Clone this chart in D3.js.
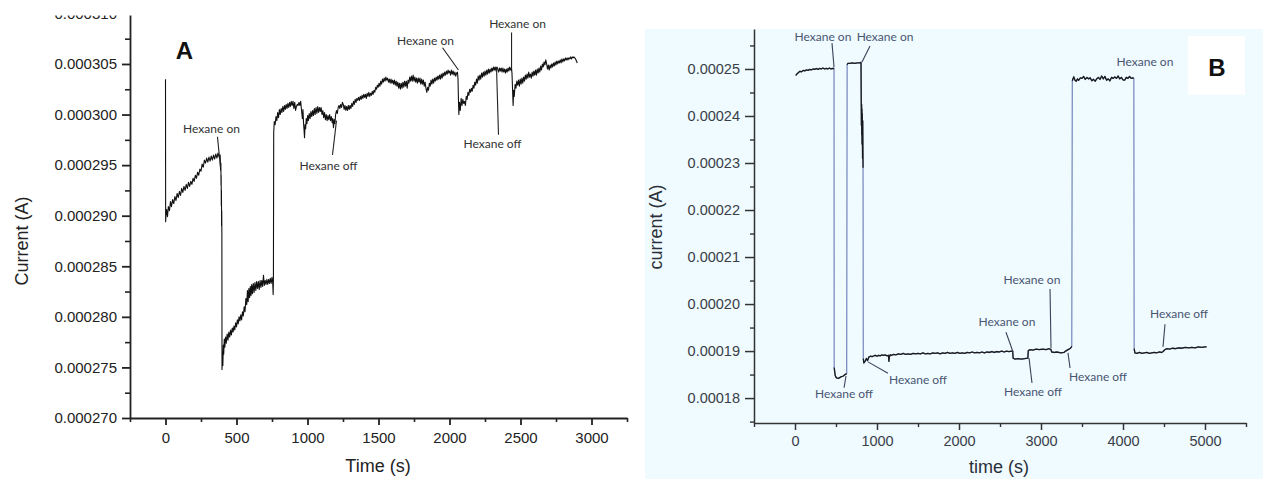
<!DOCTYPE html>
<html><head><meta charset="utf-8">
<script src="https://cdn.jsdelivr.net/npm/d3@7"></script>
<style>body{margin:0;background:#fff}svg{display:block}</style>
</head><body>
<svg id="c" width="1263" height="479"></svg>
<script>
// ---------- DATA (current in µA, time in s) ----------
// Panel A trace [time, current µA]
const traceA = [
[0,303.5],[1,289.4],[4,290.2],[8,290.6],[14,289.9],[20,290.9],[28,290.5],[35,291.4],[42,290.9],[50,291.6],[58,291.2],[66,291.9],[74,291.5],[82,292.2],[90,291.8],[98,292.4],[106,292.0],[114,292.7],[122,292.3],[130,292.9],[138,292.5],[146,293.1],[154,292.7],[162,293.3],[170,292.9],[178,293.4],[186,293.1],[194,293.7],[202,293.4],[210,294.0],[218,293.7],[226,294.3],[234,294.0],[242,294.6],[250,294.4],[258,295.1],[266,294.8],[274,295.5],[282,295.2],[290,295.7],[298,295.3],[306,295.8],[314,295.4],[322,295.9],[330,295.5],[338,296.0],[346,295.6],[354,296.1],[362,295.7],[370,296.2],[378,295.8],[385,296.0],
[388,294.5],[390,295.2],[391,293.0],[392,294.0],[393,291.0],[394,292.5],[395,289.0],[396,290.5],[397,288.2],[398,274.8],
[402,276.5],[404,275.2],[407,277.2],[410,276.3],[414,277.8],[418,277.0],[423,278.0],[428,277.4],[434,278.3],[440,277.7],[446,278.5],[452,278.0],[458,278.7],[464,278.2],[470,278.9],[476,278.5],[482,279.1],[488,278.7],[494,279.4],[500,279.0],[506,279.7],[512,279.3],[518,280.0],[524,279.6],[530,280.2],[536,279.7],[542,280.5],[548,280.1],[554,281.0],[560,280.5],[566,281.8],[572,281.2],[577,282.6],[582,281.5],[587,282.8],[592,281.9],[597,283.0],[602,282.1],[607,283.2],[612,282.3],[618,283.3],[624,282.4],[630,283.4],[636,282.6],[642,283.5],[648,282.8],[654,283.5],[660,282.7],[666,283.6],[672,282.9],[678,283.6],[684,283.0],[690,284.1],[696,283.1],[702,283.6],[708,283.2],[714,283.7],[720,283.2],[726,283.7],[732,283.3],[738,283.8],[744,283.3],[750,283.9],[755,283.4],[758,282.2],[760,283.6],
[762,298.2],[766,299.3],[772,299.0],[778,299.8],[784,299.4],[790,300.2],[796,299.7],[802,300.5],[808,300.0],[814,300.6],[820,300.2],[826,300.8],[832,300.3],[838,300.9],[844,300.5],[850,301.0],[856,300.6],[862,301.1],[868,300.7],[874,301.2],[880,300.8],[886,301.3],[892,300.9],[898,301.3],[904,300.6],[910,301.2],[916,300.4],[922,300.8],[928,301.0],[934,300.9],[940,301.2],[946,300.9],[952,301.3],[958,300.4],[964,299.6],[968,300.5],[972,299.2],[976,298.4],[979,297.7],[983,299.0],[987,298.6],[991,299.6],[996,299.1],[1001,299.9],[1006,299.4],[1012,300.1],[1018,299.6],[1024,300.3],[1030,299.8],[1036,300.4],[1042,299.9],[1048,300.6],[1054,300.0],[1060,300.7],[1066,300.1],[1072,300.8],[1078,300.2],[1084,300.7],[1090,300.3],[1096,300.7],[1102,300.0],[1108,300.4],[1114,299.7],[1120,300.2],[1126,299.5],[1132,300.0],[1138,299.4],[1144,299.9],[1150,299.5],[1156,300.0],[1162,299.4],[1168,299.8],[1174,299.2],[1178,299.6],[1183,298.7],[1188,299.5],[1193,299.1],[1198,300.0],[1204,300.4],[1210,300.1],[1216,300.7],[1222,300.9],[1228,300.6],[1234,301.0],[1240,300.7],[1246,301.2],[1252,301.0],[1258,300.5],[1264,300.9],[1270,300.4],[1276,300.8],[1282,300.4],[1288,300.9],[1294,300.5],[1300,300.9],[1306,300.6],[1312,301.1],[1318,300.8],[1324,301.3],[1330,301.0],[1336,301.5],[1342,301.2],[1348,301.6],[1354,301.4],[1360,301.7],[1366,301.4],[1372,301.8],[1378,301.5],[1384,301.9],[1390,301.6],[1396,302.0],[1402,301.7],[1408,302.0],[1414,301.6],[1420,302.1],[1426,301.8],[1432,302.2],[1438,301.8],[1444,302.1],[1450,301.9],[1456,302.3],[1462,302.0],[1468,302.4],[1474,302.2],[1480,302.7],[1486,302.5],[1492,302.9],[1498,302.7],[1504,303.1],[1510,302.8],[1516,303.3],[1522,303.0],[1528,303.5],[1534,303.2],[1540,303.6],[1546,303.3],[1552,303.7],[1558,303.4],[1564,303.6],[1570,303.2],[1576,303.5],[1582,303.1],[1588,303.5],[1594,303.1],[1600,303.4],[1606,303.0],[1612,303.4],[1618,302.9],[1624,303.3],[1630,302.8],[1636,303.2],[1642,302.6],[1648,303.1],[1654,302.5],[1660,303.1],[1666,302.6],[1672,303.2],[1678,302.7],[1684,303.3],[1690,302.8],[1696,303.3],[1702,302.6],[1708,303.4],[1714,303.1],[1720,303.7],[1726,303.3],[1732,303.8],[1738,303.3],[1744,303.9],[1750,303.3],[1756,303.7],[1762,303.2],[1768,303.6],[1774,303.1],[1780,303.6],[1786,303.2],[1792,303.6],[1798,303.0],[1804,303.5],[1810,303.0],[1816,303.4],[1822,302.8],[1828,303.2],[1834,302.6],[1840,302.2],[1846,302.7],[1852,302.4],[1858,303.1],[1864,302.8],[1870,303.4],[1876,303.0],[1882,303.5],[1888,303.1],[1894,303.6],[1900,303.3],[1906,303.7],[1912,303.4],[1918,303.8],[1924,303.5],[1930,303.9],[1936,303.5],[1942,304.0],[1948,303.6],[1954,304.1],[1960,303.8],[1966,304.2],[1972,303.9],[1978,304.3],[1984,304.0],[1990,304.4],[1996,304.1],[2002,304.3],[2008,303.9],[2014,304.4],[2020,304.0],[2026,304.3],[2032,303.9],[2038,304.2],[2044,303.8],[2050,304.1],[2056,304.2],[2060,303.5],[2063,301.5],[2066,300.0],[2070,301.2],[2076,300.4],[2082,301.6],[2088,300.9],[2094,301.5],[2100,301.1],[2106,301.3],[2112,300.9],[2118,301.8],[2124,301.5],[2130,302.2],[2136,301.9],[2142,302.5],[2148,302.2],[2154,302.6],[2160,302.3],[2166,302.9],[2172,302.6],[2178,303.2],[2184,302.9],[2190,303.5],[2196,303.1],[2202,303.8],[2208,303.4],[2214,303.9],[2220,303.5],[2226,304.1],[2232,303.7],[2238,304.2],[2244,303.8],[2250,304.3],[2256,303.9],[2262,304.4],[2268,304.0],[2274,304.5],[2280,304.1],[2286,304.5],[2292,304.2],[2298,304.6],[2304,304.3],[2310,304.7],[2316,304.4],[2322,304.7],[2328,304.3],[2334,304.7],[2340,304.5],[2346,304.2],[2352,304.6],[2358,304.3],[2364,304.6],[2370,304.2],[2376,304.6],[2382,304.2],[2388,304.5],[2394,304.1],[2400,304.5],[2406,304.2],[2412,304.6],[2418,304.3],[2424,304.7],[2430,304.4],[2436,304.6],[2440,304.1],[2444,302.5],[2448,300.9],[2452,302.4],[2456,301.8],[2462,303.0],[2468,302.6],[2474,303.3],[2480,302.9],[2486,303.4],[2492,302.8],[2498,303.5],[2504,303.0],[2510,303.6],[2516,303.1],[2522,303.7],[2528,303.3],[2534,303.9],[2540,303.5],[2546,304.0],[2552,303.6],[2558,304.2],[2564,303.7],[2570,304.0],[2576,303.6],[2582,304.2],[2588,303.8],[2594,304.3],[2600,303.9],[2606,304.4],[2612,303.9],[2618,304.5],[2624,304.1],[2630,304.6],[2636,304.2],[2642,304.8],[2648,304.4],[2654,305.0],[2660,304.7],[2666,305.2],[2672,304.9],[2678,305.4],[2684,305.0],[2690,304.5],[2696,304.9],[2702,304.4],[2708,304.9],[2714,304.6],[2720,305.0],[2726,304.7],[2732,305.1],[2738,304.8],[2744,305.2],[2750,304.9],[2756,305.3],[2762,305.0],[2768,305.3],[2774,305.1],[2780,305.4],[2786,305.1],[2792,305.5],[2798,305.2],[2804,305.5],[2810,305.3],[2816,305.6],[2822,305.4],[2828,305.6],[2834,305.4],[2840,305.6],[2846,305.5],[2852,305.7],[2858,305.5],[2864,305.7],[2870,305.6],[2876,305.7],[2882,305.6],[2888,305.5],[2894,305.3],[2900,305.1]
];
// Panel B trace [time, current µA]
const traceB = [
[10,248.6],[20,248.9],[40,249.2],[60,249.5],[80,249.4],[100,249.7],[120,249.6],[140,249.8],[160,249.7],[180,249.9],[200,249.8],[220,250.0],[240,249.9],[260,250.1],[280,249.9],[300,250.1],[320,250.0],[340,250.2],[360,250.0],[380,250.1],[400,250.0],[420,250.2],[440,250.0],[460,250.1],[476,250.1],
[478,186.5],[490,184.8],[505,184.3],[530,184.2],[560,184.5],[590,184.7],[610,185.0],[630,185.2],
[636,250.9],[645,251.2],[670,251.2],[700,251.3],[730,251.2],[760,251.3],[790,251.3],[805,251.4],
[808,243.0],[810,238.0],[812,242.5],[814,236.0],[816,241.5],[818,234.0],[820,240.5],[822,237.0],[824,231.0],[826,239.0],[828,233.0],[830,229.0],
[833,188.4],[840,187.5],[855,187.8],[870,188.4],[885,188.0],[900,188.7],[920,188.9],[940,188.8],[960,189.0],[980,189.1],[1000,188.9],[1020,189.1],[1040,189.0],[1060,189.2],[1080,189.1],[1100,189.2],[1120,189.0],[1140,189.1],[1145,187.8],[1150,188.6],[1160,189.2],[1180,189.1],[1200,189.3],[1230,189.2],[1260,189.4],[1290,189.3],[1320,189.5],[1350,189.3],[1380,189.4],[1410,189.3],[1440,189.5],[1470,189.4],[1500,189.5],[1530,189.4],[1560,189.6],[1590,189.4],[1620,189.5],[1650,189.4],[1680,189.6],[1710,189.5],[1740,189.6],[1770,189.4],[1800,189.6],[1830,189.5],[1860,189.7],[1890,189.5],[1920,189.6],[1950,189.5],[1980,189.7],[2010,189.5],[2040,189.6],[2070,189.5],[2100,189.7],[2130,189.6],[2160,189.8],[2190,189.6],[2220,189.7],[2250,189.6],[2280,189.8],[2310,189.6],[2340,189.8],[2370,189.7],[2400,189.9],[2430,189.7],[2460,189.9],[2490,189.8],[2520,190.0],[2550,189.8],[2580,190.0],[2610,189.9],[2640,190.0],[2655,189.9],
[2660,188.5],[2680,188.3],[2720,188.4],[2760,188.3],[2800,188.4],[2840,188.5],
[2845,190.1],[2870,190.3],[2900,190.2],[2940,190.4],[2980,190.3],[3020,190.4],[3060,190.3],[3100,190.5],[3122,190.3],[3130,189.8],[3160,189.7],[3200,189.8],[3240,189.6],[3280,189.7],[3300,190.0],[3330,190.3],[3360,190.6],[3375,191.0],
[3382,247.5],[3390,247.9],[3400,248.3],[3415,247.6],[3430,247.4],[3445,247.9],[3460,247.6],[3480,248.1],[3500,248.0],[3520,248.4],[3540,247.8],[3560,248.2],[3580,247.9],[3600,248.1],[3620,247.5],[3640,247.8],[3660,247.4],[3680,247.9],[3700,248.2],[3720,247.8],[3740,248.5],[3760,247.9],[3780,248.4],[3800,247.6],[3820,247.9],[3840,247.5],[3860,248.2],[3880,248.0],[3900,248.3],[3920,248.0],[3940,248.5],[3960,247.9],[3980,248.2],[4000,247.7],[4020,247.6],[4040,248.2],[4060,248.0],[4080,248.4],[4100,248.0],[4120,248.1],[4132,248.0],
[4136,190.5],[4145,189.6],[4170,189.5],[4200,189.7],[4230,189.5],[4260,189.6],[4290,189.7],[4320,189.5],[4350,189.6],[4380,189.7],[4410,189.6],[4440,189.8],[4470,189.7],[4490,189.9],[4510,190.3],[4540,190.5],[4570,190.4],[4600,190.6],[4640,190.5],[4680,190.7],[4720,190.6],[4760,190.8],[4800,190.7],[4840,190.8],[4880,190.7],[4920,190.9],[4960,190.8],[5000,190.9],[5020,190.9]
];
// Tick values
const xTicksA = [0,500,1000,1500,2000,2500,3000];
const xMinorA = [-250,250,750,1250,1750,2250,2750,3250];
const yTicksA = [270,275,280,285,290,295,300,305,310];
const yMinorA = [272.5,277.5,282.5,287.5,292.5,297.5,302.5,307.5];
const xTicksB = [0,1000,2000,3000,4000,5000];
const xMinorB = [-500,500,1500,2500,3500,4500,5500];
const yTicksB = [180,190,200,210,220,230,240,250];
const yMinorB = [175,185,195,205,215,225,235,245,255];
// Annotations: text anchor [t, µA] and leader [from, to]
const notesA = [
 {text:"Hexane on",  at:[324,298.2], from:[366,297.8], to:[387,294.8]},
 {text:"Hexane off", at:[1148,294.5], from:[1176,296.0], to:[1204,299.4]},
 {text:"Hexane on",  at:[1831,306.9], from:[1951,306.6], to:[2063,304.4]},
 {text:"Hexane off", at:[2303,296.7], from:[2345,298.0], to:[2331,304.7]},
 {text:"Hexane on",  at:[2479,308.6], from:[2437,308.1], to:[2437,304.3]}
];
const notesB = [
 {text:"Hexane on",  at:[341,256.0], from:[451,255.5], to:[476,250.4]},
 {text:"Hexane on",  at:[1098,256.0], from:[915,254.9], to:[817,251.5]},
 {text:"Hexane off", at:[598,180.0], from:[622,184.7], to:[598,182.2]},
 {text:"Hexane off", at:[1500,183.0], from:[890,187.7], to:[1134,185.3]},
 {text:"Hexane on",  at:[2585,195.3], from:[2573,194.0], to:[2659,189.8]},
 {text:"Hexane off", at:[2902,180.4], from:[2890,183.2], to:[2854,188.5]},
 {text:"Hexane on",  at:[2890,204.3], from:[3110,203.2], to:[3122,190.6]},
 {text:"Hexane off", at:[3695,183.6], from:[3329,189.6], to:[3354,186.4]},
 {text:"Hexane on",  at:[4268,250.6], from:null, to:null},
 {text:"Hexane off", at:[4683,197.0], from:[4512,195.7], to:[4488,190.9]}
];

// ---------- DRAW ----------
const svg = d3.select("#c");
const AX = "'Liberation Sans', Arial, sans-serif";
const NOTE = "Lato, 'Open Sans', sans-serif";
const fmtX = d => String(d);

// Panel B background
svg.append("rect").attr("x",645).attr("y",29).attr("width",618).attr("height",450).attr("fill","#effbff");

// ===== Panel A =====
const xA = d3.scaleLinear().domain([-250,3250]).range([130,627]);
const yA = d3.scaleLinear().domain([270,310]).range([418,13.4]);
const gA = svg.append("g");
const fmtA = d => (d*1e-6).toFixed(6);

function styleAxis(g, col, w, fs){
  g.selectAll("path.domain").attr("stroke",col).attr("stroke-width",w);
  g.selectAll(".tick line").attr("stroke",col).attr("stroke-width",w);
  g.selectAll("text").attr("font-family",AX).attr("font-size",fs).attr("fill",col);
}
const gyA = gA.append("g").attr("transform","translate(130,0)")
  .call(d3.axisLeft(yA).tickValues(yTicksA).tickFormat(fmtA).tickSize(8).tickSizeOuter(0).tickPadding(5));
styleAxis(gyA,"#222",1.8,15);
gA.append("g").attr("transform","translate(130,0)")
  .call(d3.axisLeft(yA).tickValues(yMinorA).tickFormat("").tickSize(5))
  .call(g=>{g.select(".domain").remove(); g.selectAll(".tick line").attr("stroke","#222").attr("stroke-width",1.6);});
const gxA = gA.append("g").attr("transform","translate(0,418)")
  .call(d3.axisBottom(xA).tickValues(xTicksA).tickFormat(fmtX).tickSize(7).tickSizeOuter(0).tickPadding(7));
styleAxis(gxA,"#222",1.8,15);
gA.append("g").attr("transform","translate(0,418)")
  .call(d3.axisBottom(xA).tickValues(xMinorA).tickFormat("").tickSize(4))
  .call(g=>{g.select(".domain").remove(); g.selectAll(".tick line").attr("stroke","#222").attr("stroke-width",1.6);});

const lineA = d3.line().x(d=>xA(d[0])).y(d=>yA(d[1]));
gA.append("path").datum(traceA).attr("d",lineA).attr("fill","none").attr("stroke","#111").attr("stroke-width",1.1).attr("stroke-linejoin","round");

// cover top crop
svg.append("rect").attr("x",0).attr("y",0).attr("width",640).attr("height",15.5).attr("fill","#fff");

gA.append("text").attr("x",378).attr("y",472).attr("text-anchor","middle")
  .attr("font-family",AX).attr("font-size",18).attr("fill","#222").text("Time (s)");
gA.append("text").attr("transform","translate(28,241) rotate(-90)").attr("text-anchor","middle")
  .attr("font-family",AX).attr("font-size",18).attr("fill","#222").text("Current (A)");
gA.append("text").attr("x",xA(134)).attr("y",yA(305.5)).attr("text-anchor","middle")
  .attr("font-family",AX).attr("font-weight","bold").attr("font-size",24).attr("fill","#111").text("A");

notesA.forEach(n=>{
  gA.append("text").attr("x",xA(n.at[0])).attr("y",yA(n.at[1])).attr("text-anchor","middle")
    .attr("font-family",NOTE).attr("font-size",12).attr("fill","#333").text(n.text);
  if(n.from) gA.append("line").attr("x1",xA(n.from[0])).attr("y1",yA(n.from[1]))
    .attr("x2",xA(n.to[0])).attr("y2",yA(n.to[1])).attr("stroke","#222").attr("stroke-width",1.1);
});

// ===== Panel B =====
const xB = d3.scaleLinear().domain([-500,5500]).range([754,1246]);
const yB = d3.scaleLinear().domain([174.7,258.5]).range([423,29]);
const gB = svg.append("g");
const fmtB = d => (d*1e-6).toFixed(5);
const gyB = gB.append("g").attr("transform","translate(754,0)")
  .call(d3.axisLeft(yB).tickValues(yTicksB).tickFormat(fmtB).tickSize(9).tickSizeOuter(0).tickPadding(5));
styleAxis(gyB,"#333",1.5,14.5);
gyB.selectAll("text").attr("fill","#3a3e48");
gB.append("g").attr("transform","translate(754,0)")
  .call(d3.axisLeft(yB).tickValues(yMinorB).tickFormat("").tickSize(4))
  .call(g=>{g.select(".domain").remove(); g.selectAll(".tick line").attr("stroke","#333").attr("stroke-width",1.4);});
const gxB = gB.append("g").attr("transform","translate(0,423)")
  .call(d3.axisBottom(xB).tickValues(xTicksB).tickFormat(fmtX).tickSize(7).tickSizeOuter(0).tickPadding(6));
styleAxis(gxB,"#333",1.5,14.5);
gxB.selectAll("text").attr("fill","#3a3e48");
gB.append("g").attr("transform","translate(0,423)")
  .call(d3.axisBottom(xB).tickValues(xMinorB).tickFormat("").tickSize(4))
  .call(g=>{g.select(".domain").remove(); g.selectAll(".tick line").attr("stroke","#333").attr("stroke-width",1.4);});

const lineB = d3.line().x(d=>xB(d[0])).y(d=>yB(d[1]));
// full trace in blue-grey (visible on the jumps)
gB.append("path").datum(traceB).attr("d",lineB).attr("fill","none").attr("stroke","#7d8ec2").attr("stroke-width",1.3);
// plateaus (consecutive points with small change) in black
const runs = []; let cur=[traceB[0]];
for(let k=1;k<traceB.length;k++){
  if(Math.abs(traceB[k][1]-traceB[k-1][1])<15) cur.push(traceB[k]);
  else { runs.push(cur); cur=[traceB[k]]; }
}
runs.push(cur);
runs.filter(r=>r.length>1).forEach(r=>{
  gB.append("path").datum(r).attr("d",lineB).attr("fill","none").attr("stroke","#1a1a1a").attr("stroke-width",1.3).attr("stroke-linejoin","round");
});

gB.append("text").attr("x",999).attr("y",473).attr("text-anchor","middle")
  .attr("font-family",AX).attr("font-size",18).attr("fill","#2a2e38").text("time (s)");
gB.append("text").attr("transform","translate(662,227) rotate(-90)").attr("text-anchor","middle")
  .attr("font-family",AX).attr("font-size",18).attr("fill","#2a2e38").text("current (A)");

// Panel label B box
gB.append("rect").attr("x",xB(4793)).attr("y",yB(257.0)).attr("width",xB(5488)-xB(4793)).attr("height",yB(244.5)-yB(257.0)).attr("fill","#fff");
gB.append("text").attr("x",xB(5146)).attr("y",yB(248.5)).attr("text-anchor","middle")
  .attr("font-family",AX).attr("font-weight","bold").attr("font-size",24).attr("fill","#111").text("B");

notesB.forEach(n=>{
  gB.append("text").attr("x",xB(n.at[0])).attr("y",yB(n.at[1])).attr("text-anchor","middle")
    .attr("font-family",NOTE).attr("font-size",12).attr("fill","#4a5572").text(n.text);
  if(n.from) gB.append("line").attr("x1",xB(n.from[0])).attr("y1",yB(n.from[1]))
    .attr("x2",xB(n.to[0])).attr("y2",yB(n.to[1])).attr("stroke","#3a4258").attr("stroke-width",1.1);
});
</script>
</body></html>
